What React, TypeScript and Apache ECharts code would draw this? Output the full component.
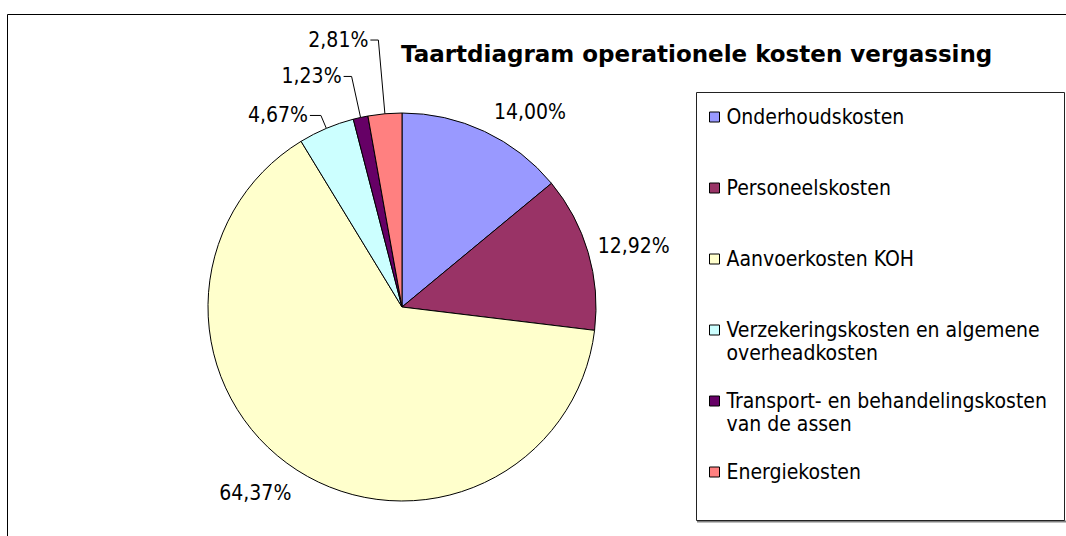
import React, { useEffect, useRef } from "react";
import * as echarts from "echarts";

const titleText = "Taartdiagram operationele kosten vergassing";
const categories = [
  "Onderhoudskosten",
  "Personeelskosten",
  "Aanvoerkosten KOH",
  "Verzekeringskosten en algemene overheadkosten",
  "Transport- en behandelingskosten van de assen",
  "Energiekosten",
];
const legendLines = [
  "Onderhoudskosten",
  "Personeelskosten",
  "Aanvoerkosten KOH",
  "Verzekeringskosten en algemene\noverheadkosten",
  "Transport- en behandelingskosten\nvan de assen",
  "Energiekosten",
];
const values = [14.0, 12.92, 64.37, 4.67, 1.23, 2.81];
const colors = ["#9999FF", "#993366", "#FFFFCC", "#CCFFFF", "#660066", "#FF8080"];

// label styling per slice: [showLine, length, length2, dx, dy]
const labelStyle: [boolean, number, number, number, number][] = [
  [false, 22, 0, 0, 0],
  [false, 10, 0, 0, -4],
  [false, 27, 0, 9, 0],
  [true, 14, 11, 0, 0],
  [true, 42, 8, 0, 0],
  [true, 74, 8, 0, 0],
];

const FONT = "'DejaVu Sans Condensed', 'DejaVu Sans', sans-serif";

export default function App() {
  const ref = useRef<HTMLDivElement>(null);
  useEffect(() => {
    if (!ref.current) return;
    const chart = echarts.init(ref.current, undefined, { renderer: "svg" });
    const fmt = (v: number) => v.toFixed(2).replace(".", ",") + "%";
    const option: any = {
      animation: false,
      backgroundColor: "#fff",
      title: {
        text: titleText,
        left: 401,
        top: 42,
        padding: 0,
        textStyle: {
          fontFamily: "'DejaVu Sans', sans-serif",
          fontWeight: "bold",
          fontSize: 23,
          color: "#000",
        },
      },
      legend: {
        orient: "vertical",
        left: 709,
        top: 82.5,
        padding: 0,
        itemGap: 2,
        itemWidth: 10,
        itemHeight: 10,
        icon: "rect",
        selectedMode: false,
        itemStyle: { borderColor: "#000", borderWidth: 1 },
        data: categories,
        formatter: (name: string) => {
          const i = categories.indexOf(name);
          const t = legendLines[i];
          return t.indexOf("\n") >= 0 ? "\n" + t : "\n" + t + "\n";
        },
        textStyle: {
          fontFamily: FONT,
          fontSize: 21,
          lineHeight: 23,
          color: "#000",
          padding: [0, 0, 0, 2],
        },
      },
      graphic: [
        {
          type: "rect",
          z: -1,
          shape: { x: 7.5, y: 14.5, width: 1100, height: 600 },
          style: { fill: "none", stroke: "#000", lineWidth: 1 },
          silent: true,
        },
        {
          type: "line",
          z: -1,
          shape: { x1: 697, y1: 521.5, x2: 1066, y2: 521.5 },
          style: { stroke: "#808080", lineWidth: 2 },
          silent: true,
        },
        {
          type: "rect",
          z: -1,
          shape: { x: 696.5, y: 92.5, width: 368, height: 428 },
          style: { fill: "none", stroke: "#222", lineWidth: 1 },
          silent: true,
        },
      ],
      series: [
        {
          type: "pie",
          center: [402, 307],
          radius: 194,
          startAngle: 90,
          clockwise: true,
          avoidLabelOverlap: true,
          selectedMode: false,
          emphasis: { disabled: true },
          itemStyle: { borderColor: "#000", borderWidth: 1 },
          label: {
            show: true,
            position: "outside",
            distanceToLabelLine: 0,
            fontFamily: FONT,
            fontSize: 21,
            color: "#000",
            formatter: (p: any) => fmt(p.value),
          },
          labelLine: {
            lineStyle: { color: "#000", width: 1 },
            smooth: false,
          },
          labelLayout: (p: any) => {
            const s = labelStyle[p.dataIndex];
            if (!s || s[0]) return {};
            return { dx: s[3], dy: s[4] };
          },
          data: categories.map((name, i) => ({
            name,
            value: values[i],
            itemStyle: { color: colors[i] },
            label: { distanceToLabelLine: labelStyle[i][0] ? 2 : 0 },
            labelLine: {
              show: labelStyle[i][0],
              length: labelStyle[i][1],
              length2: labelStyle[i][2],
            },
          })),
        },
      ],
    };
    chart.setOption(option);
    return () => chart.dispose();
  }, []);
  return (
    <div
      ref={ref}
      style={{ position: "fixed", left: 0, top: 0, width: 1066, height: 536 }}
    />
  );
}
